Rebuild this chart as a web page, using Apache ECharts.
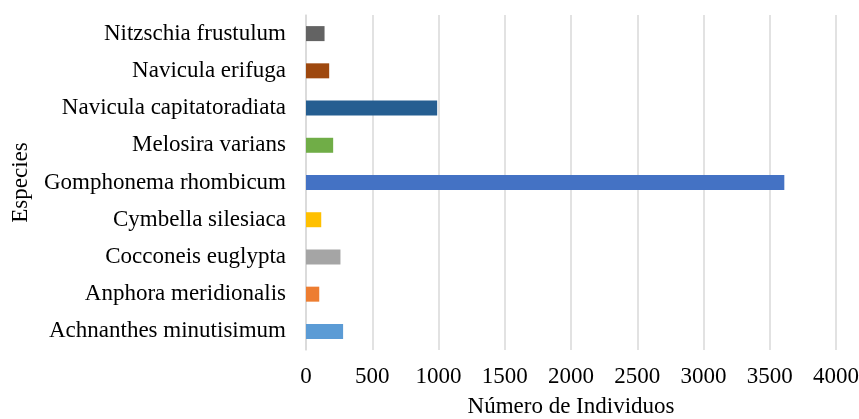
<!DOCTYPE html>
<html>
<head>
<meta charset="utf-8">
<script src="https://cdn.jsdelivr.net/npm/echarts@6/dist/echarts.min.js"></script>
<style>html,body{margin:0;padding:0;background:#fff}#main{width:859px;height:419px}</style>
</head>
<body>
<div id="main"></div>
<script>
var especies = ['Achnanthes minutisimum', 'Anphora meridionalis', 'Cocconeis euglypta', 'Cymbella silesiaca',
    'Gomphonema rhombicum', 'Melosira varians', 'Navicula capitatoradiata', 'Navicula erifuga', 'Nitzschia frustulum'];
var individuos = [280, 100, 260, 115, 3610, 205, 990, 175, 140];
var colores = ['#5B9BD5', '#ED7D31', '#A5A5A5', '#FFC000', '#4472C4', '#70AD47', '#255E91', '#9E480E', '#636363'];

var font = '"Liberation Serif", "Times New Roman", serif';
var myChart = echarts.init(document.getElementById('main'));
var option = {
    animation: false,
    grid: { left: 306, right: 23, top: 15, bottom: 69, containLabel: false, outerBoundsMode: 'none' },
    xAxis: {
        type: 'value',
        min: 0, max: 4000, interval: 500,
        name: 'Número de Individuos',
        nameLocation: 'middle',
        nameGap: 45,
        nameTextStyle: { fontFamily: font, fontSize: 23, color: '#000' },
        axisLine: { show: false },
        axisTick: { show: false },
        axisLabel: { fontFamily: font, fontSize: 23, color: '#000', margin: 15,
            formatter: function (v) { return String(v); } },
        splitLine: { lineStyle: { color: '#d9d9d9', width: 1.5 } }
    },
    yAxis: {
        type: 'category',
        data: especies,
        name: 'Especies',
        nameLocation: 'middle',
        nameGap: 274,
        nameTextStyle: { fontFamily: font, fontSize: 23, color: '#000' },
        axisLine: { lineStyle: { color: '#d9d9d9', width: 1.5 } },
        axisTick: { show: false },
        axisLabel: { fontFamily: font, fontSize: 23, color: '#000', margin: 20 }
    },
    series: [{
        type: 'bar',
        barWidth: 15,
        data: individuos.map(function (v, i) {
            return { value: v, itemStyle: { color: colores[i] } };
        })
    }]
};
myChart.setOption(option);
</script>
</body>
</html>
